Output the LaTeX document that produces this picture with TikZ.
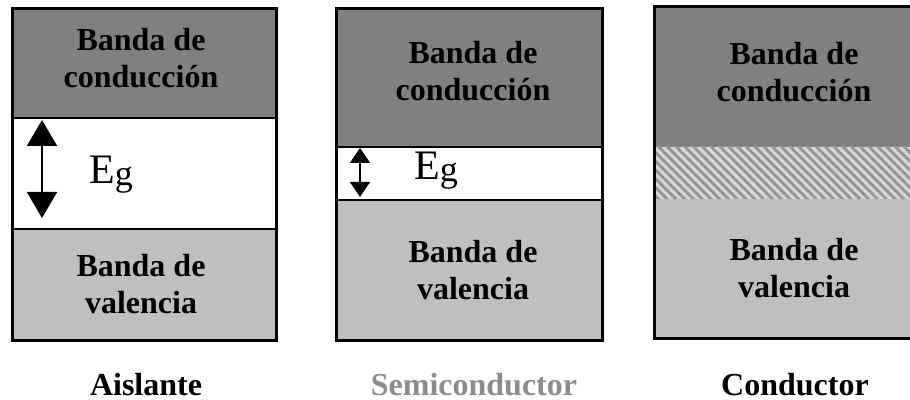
\documentclass[tikz,border=0pt]{standalone}
\usepackage{fontspec}
\setmainfont{Liberation Serif}
\usetikzlibrary{arrows.meta,patterns.meta}
\definecolor{cband}{gray}{0.5}
\definecolor{vband}{gray}{0.75}
\definecolor{semigray}{gray}{0.55}
\definecolor{hatchbg}{gray}{0.84}
\definecolor{hatchln}{gray}{0.58}
\tikzset{
  banda/.style={font=\bfseries\fontsize{16}{18.5}\selectfont,align=center},
  titulo/.style={font=\bfseries\fontsize{16}{18.5}\selectfont,anchor=base},
  gaptxt/.style={font=\fontsize{21}{24}\selectfont},
  marco/.style={line width=1.5pt},
  linea/.style={line width=1pt},
}
\newcommand{\Eg}{E{\fontsize{18}{20}\selectfont\raisebox{-1pt}{g}}}

\begin{document}
\begin{tikzpicture}[x=.5pt,y=-.5pt]
  \useasboundingbox (0,0) rectangle (910,400);

  % aislante
  \fill[cband] (12,9) rectangle (276,118);
  \fill[white] (12,118) rectangle (276,229);
  \fill[vband] (12,229) rectangle (276,341);
  \draw[linea] (12,118) -- (276,118) (12,229) -- (276,229);
  \draw[marco] (12,9) rectangle (276,341);
  \node (c1) at (141,58) [banda] {Banda de\\conducción};
  \node (v1) at (141,284) [banda] {Banda de\\valencia};
  \node (e1) at (111,175) [gaptxt] {\Eg};
  \coordinate (a1) at (42,120);
  \coordinate (b1) at (42,218);
  \draw[line width=1pt,{Triangle[width=15pt,length=13pt]}-{Triangle[width=15pt,length=13pt]}] (a1) -- (b1);
  \node (t1) at (146,396) [titulo] {Aislante};

  % semiconductor
  \fill[cband] (336,9) rectangle (602,147);
  \fill[white] (336,147) rectangle (602,200);
  \fill[vband] (336,200) rectangle (602,341);
  \draw[linea] (336,147) -- (602,147) (336,200) -- (602,200);
  \draw[marco] (336,9) rectangle (602,341);
  \node (c2) at (473,71) [banda] {Banda de\\conducción};
  \node (v2) at (473,270) [banda] {Banda de\\valencia};
  \node (e2) at (436,171) [gaptxt] {\Eg};
  \coordinate (a2) at (360,148);
  \coordinate (b2) at (360,197);
  \draw[line width=.8pt,{Triangle[width=10pt,length=7.5pt]}-{Triangle[width=10pt,length=7.5pt]}] (a2) -- (b2);
  \node (t2) at (474,396) [titulo,text=semigray] {Semiconductor};

  % conductor
  \fill[cband] (654,7) rectangle (936,147);
  \fill[hatchbg] (654,147) rectangle (936,199);
  \fill[pattern={Lines[angle=-45,distance=3.1pt,line width=1.4pt]},pattern color=hatchln] (654,147) rectangle (936,199);
  \fill[vband] (654,199) rectangle (936,339);
  \draw[marco] (654,7) rectangle (936,339);
  \node (c3) at (794,72) [banda] {Banda de\\conducción};
  \node (v3) at (794,268) [banda] {Banda de\\valencia};
  \node (t3) at (795,396) [titulo] {Conductor};
\end{tikzpicture}
\end{document}
